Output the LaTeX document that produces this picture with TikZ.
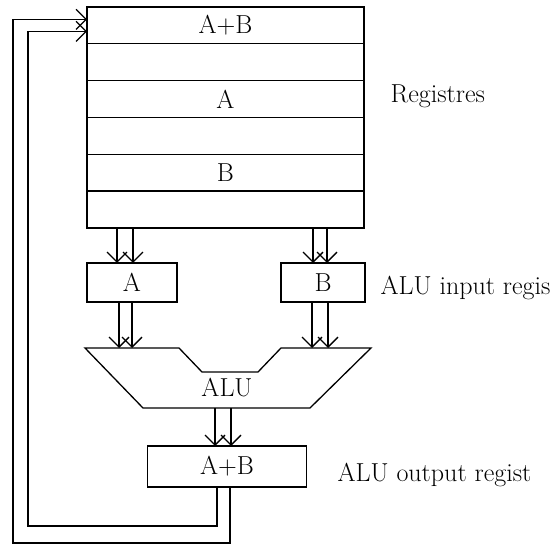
\documentclass[tikz,border=0pt]{standalone}
\usepackage{tikz}
\usetikzlibrary{arrows.meta,positioning,calc}

\begin{document}
\begin{tikzpicture}[
  x=1pt,y=1pt,line width=1.3pt,
  font=\fontsize{26}{30}\selectfont,
  reg/.style={draw,minimum width=277pt,minimum height=36.83pt,inner sep=0pt,outer sep=0pt},
  box/.style={draw,minimum height=39pt,inner sep=0pt,outer sep=0pt},
  lbl/.style={anchor=base west,inner sep=0pt},
  arr/.style={-{Straight Barb[length=10pt,width=20pt]}},
]
\useasboundingbox (0,0) rectangle (552,-545);
% register file
\node[reg,anchor=north west] (r1) at (87,-7) {A+B};
\node[reg,below=0pt of r1] (r2) {};
\node[reg,below=0pt of r2] (r3) {A};
\node[reg,below=0pt of r3] (r4) {};
\node[reg,below=0pt of r4] (r5) {B};
\node[reg,below=0pt of r5] (r6) {};
\node[lbl] (lblreg) at (390,-103) {Registres};
% ALU input registers
\node[box,minimum width=90pt] (a) at (132,-282.5) {A};
\node[box,minimum width=84pt] (b) at (323,-282.5) {B};
\node[lbl] (lblin) at (380,-295) {ALU input regis};
% ALU
\draw (85,-348) coordinate (alutl) -- (179,-348) -- (202,-372) -- (258,-372) -- (281,-348)
  -- (371,-348) -- (310,-408) -- (143,-408) coordinate (alubl) -- cycle;
\node (alu) at (227,-388) {ALU};
% ALU output register
\node[box,minimum width=159pt,minimum height=41pt] (out) at (227,-466.5) {A+B};
\node[lbl] (lblout) at (337,-481) {ALU output regist};
% buses
\draw[arr] ($(a.north |- r6.south)+(-15,0)$) -- ($(a.north)+(-15,0)$);
\draw[arr] ($(a.north |- r6.south)+(1,0)$) -- ($(a.north)+(1,0)$);
\draw[arr] ($(b.north |- r6.south)+(-10,0)$) -- ($(b.north)+(-10,0)$);
\draw[arr] ($(b.north |- r6.south)+(4,0)$) -- ($(b.north)+(4,0)$);
\draw[arr] ($(a.south)+(-13,0)$) -- ($(a.south |- alutl)+(-13,0)$);
\draw[arr] (a.south) -- (a.south |- alutl);
\draw[arr] ($(b.south)+(-11,0)$) -- ($(b.south |- alutl)+(-11,0)$);
\draw[arr] ($(b.south)+(5,0)$) -- ($(b.south |- alutl)+(5,0)$);
\draw[arr] ($(out.north |- alubl)+(-12,0)$) -- ($(out.north)+(-12,0)$);
\draw[arr] ($(out.north |- alubl)+(4,0)$) -- ($(out.north)+(4,0)$);
% feedback to the registers
\draw[arr] ($(out.south)+(-10,0)$) -- ++(0,-39) -| ($(r1.west)+(-59,-6)$) -- ($(r1.west)+(0,-6)$);
\draw[arr] ($(out.south)+(3,0)$) -- ++(0,-56) -| ($(r1.west)+(-74,6)$) -- ($(r1.west)+(0,6)$);
\end{tikzpicture}
\end{document}
